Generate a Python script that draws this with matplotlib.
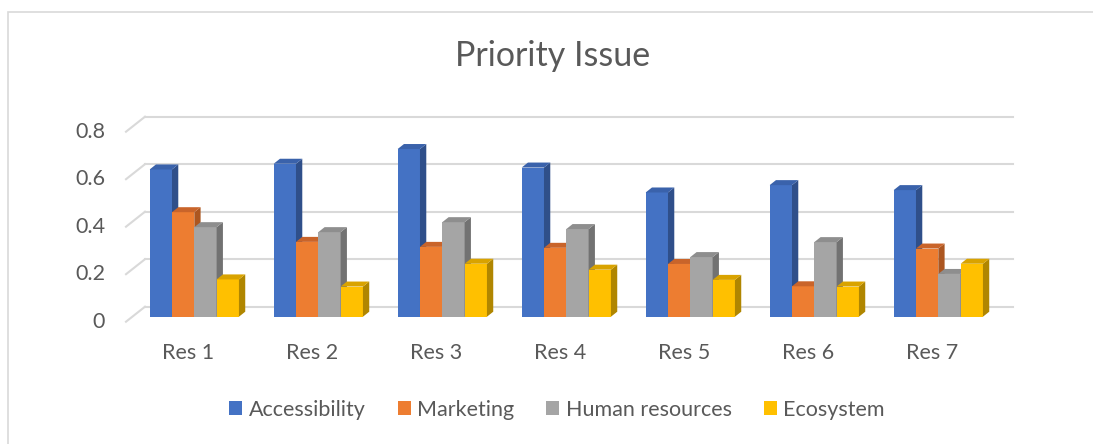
import numpy as np
import matplotlib
matplotlib.use("Agg")
from matplotlib import pyplot as plt
from matplotlib.patches import Polygon, Rectangle, Patch
from matplotlib.lines import Line2D

plt.rcParams["font.family"] = ["Lato", "DejaVu Sans"]

categories = ["Res 1", "Res 2", "Res 3", "Res 4", "Res 5", "Res 6", "Res 7"]
series_names = ["Accessibility", "Marketing", "Human resources", "Ecosystem"]
accessibility = [0.62, 0.644, 0.706, 0.628, 0.523, 0.554, 0.533]
marketing = [0.44, 0.315, 0.294, 0.29, 0.222, 0.128, 0.287]
human_resources = [0.377, 0.356, 0.398, 0.369, 0.251, 0.314, 0.18]
ecosystem = [0.157, 0.127, 0.223, 0.198, 0.155, 0.127, 0.223]
yticks = [0, 0.2, 0.4, 0.6, 0.8]

series = [accessibility, marketing, human_resources, ecosystem]
front = ["#4472C4", "#ED7D31", "#A5A5A5", "#FFC000"]
side = ["#2F4F8A", "#AC5620", "#727272", "#B08600"]
top = ["#3A62AB", "#C9642A", "#8E8E8E", "#D9A300"]
txt = "#595959"
grid = "#D9D9D9"

W, H = 1093, 444
fig = plt.figure(figsize=(W / 100, H / 100), dpi=100)
ax = fig.add_axes([132.3 / W, (H - 316.7) / H, 868 / W, 190 / H])
ax.set_xlim(-0.5, 6.5)
ax.set_ylim(0, 0.8)
ax.axis("off")

# outer chart border (only top/left visible)
fig.patches.append(Rectangle((8 / W, -0.2), 1.5, 1.2 - 12 / H, transform=fig.transFigure,
                             fill=False, edgecolor=grid, lw=1.2))

inv = fig.transFigure.inverted()


def to_fig(x, y, dx=0.0, dy=0.0):
    p = ax.transData.transform((x, y)) + np.array([dx, dy])
    return inv.transform(p)


# depth offsets in pixels
bdx, bdy = 6.3, 5.0      # bar depth
wdx, wdy = 12.7, 10.0    # back wall relative to bar front plane
fdx, fdy = -6.3, -5.0    # front plane relative to bar front plane

# back wall gridlines + left diagonals
for v in yticks:
    a = to_fig(-0.5, v, wdx, wdy)
    b = to_fig(6.5, v, wdx, wdy)
    c = to_fig(-0.5, v, fdx, fdy)
    ax.add_line(Line2D([a[0], b[0]], [a[1], b[1]], transform=fig.transFigure, color=grid, lw=1.5,
                       clip_on=False, zorder=1))
    ax.add_line(Line2D([c[0], a[0]], [c[1], a[1]], transform=fig.transFigure, color=grid, lw=1.5,
                       clip_on=False, zorder=1))
    fig.text(105 / W, c[1], f"{v:g}", ha="right", va="center", fontsize=15.5, color=txt)

bw = 0.18
x = np.arange(len(categories))
for i in x:
    for j, vals in enumerate(series):
        xl = i + (j - 2) * bw
        xr = xl + bw
        h = vals[i]
        z = 3 + i * 10 + j
        # front face through the library's bar
        ax.bar(xl, h, width=bw, align="edge", color=front[j], clip_on=False, zorder=z)
        # side face
        p = [to_fig(xr, 0), to_fig(xr, h), to_fig(xr, h, bdx, bdy), to_fig(xr, 0, bdx, bdy)]
        ax.add_patch(Polygon(p, closed=True, transform=fig.transFigure, clip_on=False,
                             facecolor=side[j], edgecolor="none", zorder=z))
        # top face
        p = [to_fig(xl, h), to_fig(xr, h), to_fig(xr, h, bdx, bdy), to_fig(xl, h, bdx, bdy)]
        ax.add_patch(Polygon(p, closed=True, transform=fig.transFigure, clip_on=False,
                             facecolor=top[j], edgecolor="none", zorder=z))

for i, c in enumerate(categories):
    pos = to_fig(i, 0, fdx, 0)
    fig.text(pos[0], 91.5 / H, c, ha="center", va="center", fontsize=15.5, color=txt)

fig.text(553 / W, 1 - 66 / H, "Priority Issue", ha="center", va="baseline", fontsize=24.5, color=txt)

handles = [Patch(facecolor=front[j], edgecolor="none") for j in range(4)]
fig.legend(handles, series_names, loc="center", bbox_to_anchor=(557 / W, 1 - 409.7 / H), ncol=4,
           frameon=False, fontsize=15.5, labelcolor=txt, handlelength=0.6, handleheight=0.6,
           handletextpad=0.3, columnspacing=1.5)

fig.savefig("out.png", dpi=100)
